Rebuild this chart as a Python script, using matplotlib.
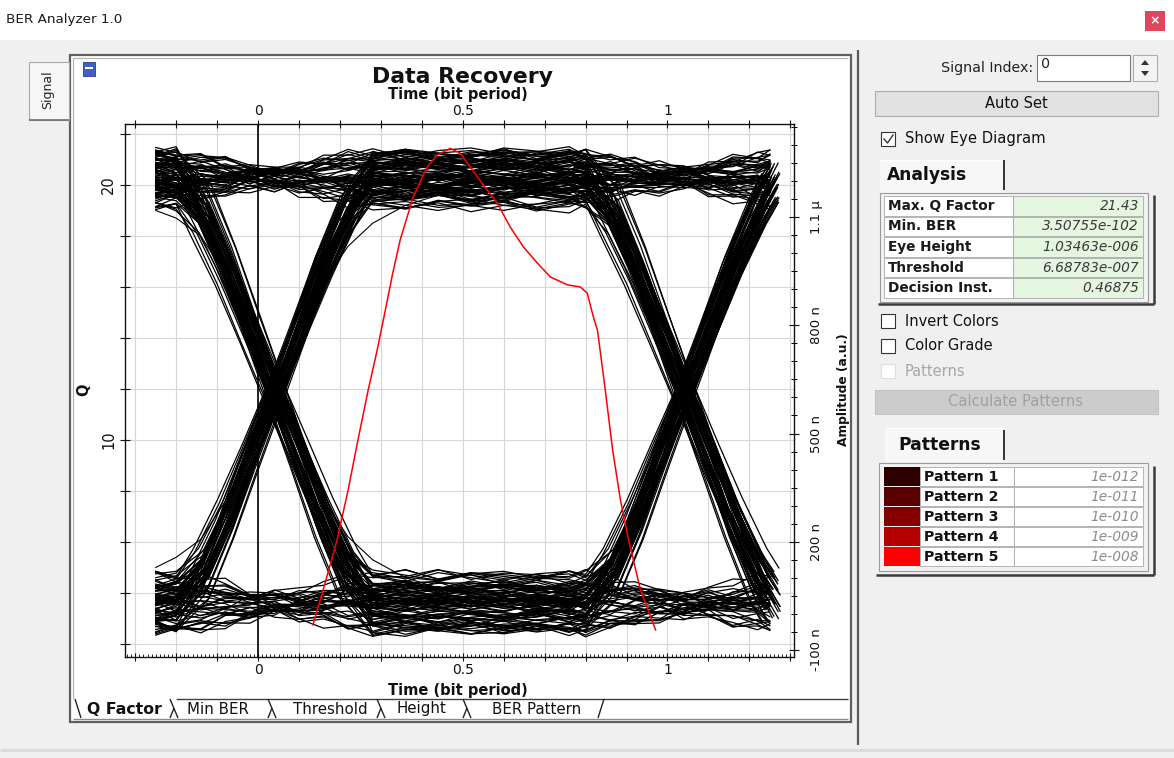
import matplotlib
matplotlib.use("Agg")
import matplotlib.pyplot as plt
from matplotlib.patches import Rectangle, Polygon
from matplotlib.ticker import MultipleLocator, FixedLocator, FuncFormatter

plt.rcParams['font.family'] = ['DejaVu Sans']

W, H = 1174, 758

# ---------------- eye diagram data ----------------
# bit stream; every 3-bit window is one trace of the eye
bits = [1, 0, 1, 1, 0, 0, 1, 1, 1, 0, 1, 0, 0, 0, 1, 1, 0, 1, 1, 1,
        1, 0, 0, 1, 0, 1, 0, 1, 1, 0, 0, 0, 0, 1, 1, 1, 0, 0, 1, 0,
        1, 1, 0, 1, 0, 0, 1, 1, 0, 1]
# level deviation of each bit (Q units)
bit_offset = [0.4, -0.6, 1.0, -0.3, 0.1, -1.0, 0.6, -0.1, 0.9, -0.5,
              0.2, 0.7, -0.9, 0.0, 0.5, -0.4, 1.1, -0.7, 0.1, -0.2,
              0.7, -1.1, 0.4, -0.1, 0.6, -0.6, 0.2, 1.0, -0.4, 0.0,
              -0.9, 0.5, 0.1, -0.5, 0.9, -0.1, 0.4, -0.7, 0.7, -0.2,
              0.0, 0.6, -1.0, 0.2, -0.4, 1.1, -0.6, 0.1, 0.5, -0.1]
# timing deviation of each bit edge (bit periods)
edge_jitter = [0.010, -0.015, 0.020, 0.000, -0.010, 0.025, -0.020, 0.005, 0.015, -0.005,
               -0.025, 0.012, 0.000, -0.012, 0.018, -0.008, 0.022, -0.018, 0.006, -0.002,
               0.014, -0.022, 0.008, 0.003, -0.014, 0.020, -0.006, 0.011, -0.016, 0.024,
               0.001, -0.010, 0.016, -0.024, 0.009, -0.004, 0.019, -0.012, 0.004, -0.020,
               0.013, 0.007, -0.009, 0.021, -0.017, 0.002, 0.012, -0.007, 0.017, -0.001]
# small noise on the flat parts (Q units)
wobble = [0.1, -0.15, 0.2, 0.0, -0.2, 0.05, 0.15, -0.1, -0.05, 0.22, -0.17, 0.08, 0.02, -0.12,
          0.17, -0.03, 0.12, -0.22, 0.05, 0.15, -0.08, 0.0, 0.2, -0.15, 0.1, -0.05, -0.2, 0.15,
          0.03, -0.1, 0.08]
q_high = 20.2
q_low = 3.6
n_sweeps = 4   # the stream is overlaid several times with shifted noise

# time points of a trace and the edge profile (fraction of the swing done)
t_vertex = [-0.25, -0.20, -0.14, -0.08, -0.02, 0.04, 0.10, 0.16, 0.22, 0.28,
            0.36, 0.44, 0.52, 0.60, 0.68, 0.76,
            0.80, 0.86, 0.92, 0.98, 1.04, 1.10, 1.16, 1.22, 1.25]
edge_1 = [0, 0, 0.07, 0.20, 0.35, 0.50, 0.65, 0.80, 0.93, 1,
          1, 1, 1, 1, 1, 1, 1, 1, 1, 1, 1, 1, 1, 1, 1]
edge_2 = [0, 0, 0, 0, 0, 0, 0, 0, 0, 0, 0, 0, 0, 0, 0, 0,
          0, 0.07, 0.20, 0.35, 0.50, 0.65, 0.80, 0.93, 0.98]

# two slow (ISI) traces
slow_rise = [5.0, 5.4, 6.1, 7.6, 9.6, 11.8, 14.2, 16.2, 17.6, 18.5,
             19.2, 19.6, 19.8, 19.9, 20.0, 20.1, 20.1, 20.0, 19.9, 19.9,
             20.0, 20.1, 20.2, 20.2, 20.2]
slow_fall = [19.0, 18.7, 18.0, 16.5, 14.3, 12.0, 9.6, 7.6, 6.2, 5.3,
             4.6, 4.2, 4.0, 3.9, 3.8, 3.8, 3.8, 3.9, 4.0, 4.1,
             4.0, 3.8, 3.7, 3.6, 3.6]

# Q factor versus decision instant (red curve)
q_curve_t = [0.134, 0.159, 0.193, 0.220, 0.244, 0.269, 0.291, 0.311, 0.328, 0.347,
             0.379, 0.413, 0.438, 0.469, 0.494, 0.518, 0.550, 0.584, 0.616, 0.648,
             0.682, 0.714, 0.756, 0.787, 0.804, 0.819, 0.829, 0.848, 0.866, 0.885,
             0.905, 0.934, 0.971]
q_curve = [2.75, 4.12, 6.08, 8.04, 10.0, 11.96, 13.53, 15.10, 16.47, 17.84,
           19.53, 20.71, 21.18, 21.43, 21.25, 20.71, 20.0, 19.29, 18.35, 17.57,
           16.94, 16.39, 16.08, 16.0, 15.76, 14.82, 14.31, 11.96, 9.61, 7.65,
           6.08, 4.12, 2.55]

amp_ticks = [-100e-9, 200e-9, 500e-9, 800e-9, 1.1e-6]
amp_labels = ['-100 n', '200 n', '500 n', '800 n', '1.1 \u03bc']

analysis_names = ['Max. Q Factor', 'Min. BER', 'Eye Height', 'Threshold', 'Decision Inst.']
analysis_values = ['21.43', '3.50755e-102', '1.03463e-006', '6.68783e-007', '0.46875']
pattern_names = ['Pattern 1', 'Pattern 2', 'Pattern 3', 'Pattern 4', 'Pattern 5']
pattern_values = ['1e-012', '1e-011', '1e-010', '1e-009', '1e-008']
pattern_colors = ['#2e0000', '#5a0000', '#860000', '#b40000', '#ff0000']
tab_names = ['Q Factor', 'Min BER', 'Threshold', 'Height', 'BER Pattern']

# ---------------- figure + window background ----------------
fig = plt.figure(figsize=(W / 100, H / 100), dpi=100)
fig.patch.set_facecolor('#f0f0f0')
bg = fig.add_axes([0, 0, 1, 1], zorder=0)
bg.set_xlim(0, W)
bg.set_ylim(H, 0)
bg.axis('off')


def box(x0, y0, x1, y1, fc, ec='none', lw=0.8, z=1):
    bg.add_patch(Rectangle((x0, y0), x1 - x0, y1 - y0, facecolor=fc,
                           edgecolor=ec, linewidth=lw, zorder=z))


def seg(xs, ys, c, lw=0.8, z=2):
    bg.plot(xs, ys, color=c, lw=lw, zorder=z, solid_capstyle='butt')


def txt(x, y, s, size=10, **kw):
    kw.setdefault('va', 'center')
    bg.text(x, y, s, fontsize=size, zorder=5, **kw)


# title bar
box(0, 0, W, 40, '#ffffff')
txt(6, 20, 'BER Analyzer 1.0', 9.7, color='#1a1a1a')
box(1145, 11, 1165, 31, '#e0465c')
txt(1155, 21, '\u00d7', 9, color='white', ha='center', weight='bold')

# chart panel
box(70, 55, 851, 722, '#ffffff', '#5f5f5f', 1.6)
seg([73, 73], [58, 699], '#b0b0b0')
seg([73, 848], [58, 58], '#b0b0b0')
# left "Signal" tab
box(29, 62, 69, 120, '#f6f6f6', '#a8a8a8', 0.8)
seg([29, 69], [120, 120], '#707070', 1.2)
txt(48, 90, 'Signal', 9, rotation=90, ha='center', color='#222222')
# small icon
box(83, 62, 95, 76, '#4060c8', '#283c8c', 0.6)
box(85, 67, 93, 69, '#ffffff')

# bottom tabs
seg([176, 848], [699, 699], '#404040', 1.0)
seg([73, 176], [699, 699], '#ffffff', 1.0)
seg([73, 848], [719, 719], '#8a8a8a', 1.0)
tab_cx = [124, 218, 330, 421, 537]
for name, cx in zip(tab_names, tab_cx):
    bold = name == 'Q Factor'
    txt(cx, 709, name, 11.3 if bold else 10.8, ha='center', color='#111111',
        weight='bold' if bold else 'normal')
seg([75, 81], [699, 718], '#222222', 1.0)
for sx in [174, 272, 381, 467]:
    seg([sx - 4, sx + 4], [699, 718], '#222222', 1.0)
    seg([sx - 4, sx], [718, 708], '#222222', 1.0)
seg([598, 604], [718, 699], '#222222', 1.0)
seg([0, W], [750, 750], '#dadada', 2.0)

# right panel
seg([858, 858], [50, 745], '#5a5a5a', 1.6)
txt(1033, 68, 'Signal Index:', 10.3, ha='right', color='#222222')
box(1037, 55, 1130, 81, '#ffffff', '#7a7a7a', 0.8)
txt(1041, 64, '0', 10.3, color='#222222')
box(1133, 55, 1157, 81, '#f4f4f4', '#adadad', 0.8)
bg.add_patch(Polygon([[1141, 65], [1149, 65], [1145, 60]], closed=True, fc='#333333', zorder=3))
bg.add_patch(Polygon([[1141, 71], [1149, 71], [1145, 76]], closed=True, fc='#333333', zorder=3))
box(875, 91, 1158, 116, '#e1e1e1', '#adadad', 0.8)
txt(1016, 103, 'Auto Set', 10.5, ha='center', color='#111111')

box(881, 132, 895, 146, '#ffffff', '#333333', 0.8)
bg.plot([884, 887.5, 893], [139, 143, 135], color='#333333', lw=1.0, zorder=3)
txt(905, 139, 'Show Eye Diagram', 10.6, color='#111111')

# analysis tab + table
box(880, 160, 1004, 193, '#f7f7f7')
seg([880, 1004], [160, 160], '#ffffff', 1.0)
seg([1004, 1004], [160, 190], '#333333', 1.4)
txt(927, 175, 'Analysis', 12.3, ha='center', weight='bold', color='#111111')
box(880, 193, 1148, 302, '#f2f2f2', '#9a9a9a', 0.8)
seg([1154, 1154], [195, 304], '#3a3a3a', 1.8)
seg([878, 1154], [304, 304], '#3a3a3a', 1.8)
for r, (name, val) in enumerate(zip(analysis_names, analysis_values)):
    y0 = 196 + r * 20.5
    box(884, y0, 1013, y0 + 19.5, '#ffffff', '#a8a8a8', 0.6)
    box(1013, y0, 1143, y0 + 19.5, '#e5f6e0', '#a8a8a8', 0.6)
    txt(888, y0 + 10, name, 9.8, weight='bold', color='#1a1a1a')
    txt(1139, y0 + 10, val, 9.9, ha='right', style='italic', color='#3a3a3a')

for r, name in enumerate(['Invert Colors', 'Color Grade', 'Patterns']):
    y = 321 + r * 25
    dim = name == 'Patterns'
    box(881, y - 7, 895, y + 7, '#ffffff', '#dddddd' if dim else '#333333', 0.8)
    txt(905, y, name, 10.5, color='#a6a6a6' if dim else '#111111')

box(875, 390, 1158, 414, '#cccccc', '#c4c4c4', 0.8)
txt(1016, 402, 'Calculate Patterns', 10.6, ha='center', color='#a0a0a0')

# patterns tab + table
box(885, 428, 1004, 462, '#f7f7f7')
seg([885, 1004], [428, 428], '#ffffff', 1.0)
seg([1004, 1004], [430, 460], '#333333', 1.4)
txt(940, 445, 'Patterns', 12.3, ha='center', weight='bold', color='#111111')
box(879, 463, 1148, 571, '#f2f2f2', '#9a9a9a', 0.8)
seg([1154, 1154], [466, 575], '#3a3a3a', 1.8)
seg([876, 1154], [575, 575], '#3a3a3a', 1.8)
for r, (name, val, col) in enumerate(zip(pattern_names, pattern_values, pattern_colors)):
    y0 = 467 + r * 20
    box(884, y0, 920, y0 + 19, col)
    box(920, y0, 1014, y0 + 19, '#ffffff', '#a8a8a8', 0.6)
    box(1014, y0, 1143, y0 + 19, '#ffffff', '#a8a8a8', 0.6)
    txt(924, y0 + 10, name, 10.2, weight='bold', color='#111111')
    txt(1139, y0 + 10, val, 9.9, ha='right', style='italic', color='#8c8c8c')

# ---------------- eye diagram axes ----------------
L, R, T, B = 125, 794, 124, 657
ax = fig.add_axes([L / W, 1 - B / H, (R - L) / W, (B - T) / H], zorder=2)
ax.set_facecolor('white')
ax.set_xlim(-0.325, 1.309)
ax.set_ylim(1.49, 22.39)
ax.set_axisbelow(True)

nb = len(bits)
for v in range(n_sweeps):
    for i in range(nb - 2):
        idx = (i, i + 1, i + 2)
        la, lb, lc = [(q_high if bits[j] else q_low) + bit_offset[(j + 17 * v) % nb] for j in idx]
        j1 = edge_jitter[(i + 1 + 13 * v) % nb]
        j2 = edge_jitter[(i + 2 + 13 * v) % nb]
        ts, qs = [], []
        for k, t in enumerate(t_vertex):
            r1, r2 = edge_1[k], edge_2[k]
            mov1 = bits[i] != bits[i + 1] and 0 < r1 < 1
            mov2 = bits[i + 1] != bits[i + 2] and 0 < r2 < 1
            w = wobble[(7 * i + 11 * v + k) % len(wobble)]
            if mov1 or mov2:
                w *= 0.2
            ts.append(t + j1 * mov1 + j2 * mov2)
            qs.append(la + (lb - la) * r1 + (lc - lb) * r2 + w)
        ax.plot(ts, qs, color='black', lw=0.9, zorder=2)
ax.plot(t_vertex, slow_rise, color='black', lw=0.8, zorder=2)
ax.plot(t_vertex, slow_fall, color='black', lw=0.8, zorder=2)

ax.plot(q_curve_t, q_curve, color='#ff0000', lw=1.1, zorder=4)
ax.axvline(0, color='black', lw=1.2, zorder=1.5)

ax.xaxis.set_major_locator(MultipleLocator(0.1))
ax.xaxis.set_minor_locator(MultipleLocator(0.01))
ax.xaxis.set_major_formatter(FuncFormatter(
    lambda val, p: {0.0: '0', 0.5: '0.5', 1.0: '1'}.get(round(val, 3), '')))
ax.yaxis.set_major_locator(MultipleLocator(2))
ax.yaxis.set_major_formatter(FuncFormatter(
    lambda val, p: {10: '10', 20: '20'}.get(int(round(val)), '')))
ax.tick_params(axis='x', which='major', top=True, labeltop=True, direction='inout',
               length=6, width=0.8, labelsize=10, pad=1, colors='#111111')
ax.tick_params(axis='x', which='minor', bottom=True, top=False, direction='in',
               length=2.5, width=0.6)
ax.tick_params(axis='y', which='major', direction='inout', length=7, width=0.8,
               labelsize=10.5, labelrotation=90, pad=3, colors='#111111')
for lab in ax.get_yticklabels():
    lab.set_va('center')
ax.grid(True, which='major', color='#d6d6d6', lw=0.8)
for s in ax.spines.values():
    s.set_color('#111111')
    s.set_linewidth(1.0)

amp = ax.twinx()
amp.set_zorder(3)
amp.set_ylim(-119.4e-9, 1357.8e-9)
amp.yaxis.set_major_locator(FixedLocator(amp_ticks))
amp.yaxis.set_minor_locator(MultipleLocator(50e-9))
amp.set_yticklabels(amp_labels)
amp.tick_params(axis='y', which='major', direction='inout', length=7, width=0.8,
                labelsize=9.5, labelrotation=90, pad=8, colors='#111111')
amp.tick_params(axis='y', which='minor', direction='inout', length=4, width=0.7)
for lab in amp.get_yticklabels():
    lab.set_va('center')
for s in amp.spines.values():
    s.set_visible(False)

# axis titles drawn in window pixels
txt(462, 77, 'Data Recovery', 15.8, ha='center', weight='bold', color='#111111')
txt(458, 95, 'Time (bit period)', 10.5, ha='center', weight='bold', color='#111111')
txt(458, 690, 'Time (bit period)', 10.5, ha='center', weight='bold', color='#111111')
txt(84, 390, 'Q', 10.5, ha='center', rotation=90, weight='bold', color='#111111')
txt(843, 390, 'Amplitude (a.u.)', 8.8, ha='center', rotation=90, weight='bold', color='#111111')

fig.savefig('out.png', dpi=100, facecolor=fig.get_facecolor())
